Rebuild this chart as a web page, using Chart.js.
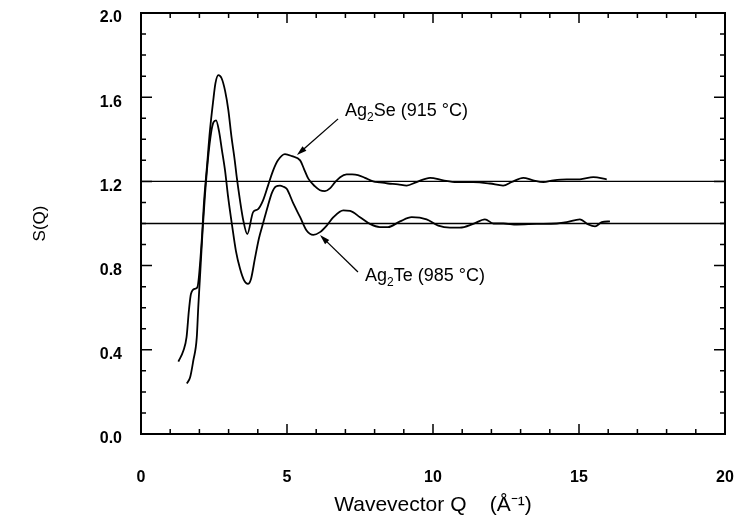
<!DOCTYPE html>
<html lang="en">
<head>
<meta charset="UTF-8">
<title>S(Q)</title>
<script src="https://cdn.jsdelivr.net/npm/chart.js@4.4.0/dist/chart.umd.min.js"></script>
<style>
  body { margin: 0; background: #fff; }
</style>
</head>
<body>
<canvas id="myChart" width="738" height="519"></canvas>
<script>
// Ag2Se (915 C), shifted up by 0.2
const seQ = [1.28, 1.45, 1.56, 1.64, 1.71, 1.85, 1.93, 2.08, 2.16, 2.26, 2.36, 2.47, 2.55, 2.65, 2.76, 2.88, 2.99, 3.1, 3.21, 3.27, 3.39, 3.51, 3.64, 3.84, 4.0, 4.18, 4.35, 4.52, 4.69, 4.93, 5.17, 5.45, 5.58, 5.73, 5.96, 6.13, 6.3, 6.47, 6.64, 6.82, 7.04, 7.23, 7.43, 7.67, 7.95, 8.18, 8.46, 8.8, 9.1, 9.44, 9.9, 10.35, 10.81, 11.38, 11.95, 12.4, 12.7, 13.09, 13.43, 13.78, 14.12, 14.58, 15.03, 15.49, 15.95]
const seS = [0.344, 0.395, 0.46, 0.586, 0.665, 0.69, 0.697, 0.92, 1.107, 1.273, 1.44, 1.58, 1.667, 1.705, 1.69, 1.63, 1.54, 1.41, 1.30, 1.23, 1.11, 1.01, 0.95, 1.054, 1.067, 1.11, 1.18, 1.25, 1.30, 1.33, 1.32, 1.30, 1.26, 1.213, 1.176, 1.158, 1.154, 1.167, 1.195, 1.22, 1.233, 1.233, 1.23, 1.217, 1.2, 1.195, 1.19, 1.186, 1.18, 1.197, 1.217, 1.205, 1.197, 1.197, 1.19, 1.18, 1.197, 1.217, 1.205, 1.197, 1.205, 1.21, 1.21, 1.22, 1.21]

// Ag2Te (985 C)
const teQ = [1.57, 1.68, 1.79, 1.91, 1.96, 2.02, 2.11, 2.19, 2.29, 2.4, 2.48, 2.57, 2.67, 2.77, 2.88, 2.98, 3.12, 3.25, 3.39, 3.53, 3.66, 3.77, 3.9, 4.04, 4.19, 4.35, 4.49, 4.62, 4.76, 4.86, 4.99, 5.22, 5.45, 5.67, 5.9, 6.13, 6.36, 6.59, 6.93, 7.16, 7.5, 7.84, 8.18, 8.46, 8.87, 9.27, 9.78, 10.18, 10.58, 10.92, 11.38, 11.78, 12.07, 12.41, 12.87, 13.55, 14.24, 14.58, 15.03, 15.32, 15.55, 15.78, 16.06]
const teS = [0.24, 0.268, 0.348, 0.459, 0.6, 0.745, 0.967, 1.133, 1.3, 1.43, 1.48, 1.49, 1.44, 1.35, 1.25, 1.13, 0.99, 0.87, 0.786, 0.73, 0.713, 0.738, 0.833, 0.93, 1.006, 1.086, 1.148, 1.176, 1.18, 1.176, 1.165, 1.094, 1.03, 0.967, 0.946, 0.959, 0.99, 1.03, 1.062, 1.06, 1.03, 0.998, 0.983, 0.983, 1.01, 1.03, 1.02, 0.99, 0.98, 0.98, 0.998, 1.02, 1.0, 1.0, 0.995, 0.998, 1.0, 1.006, 1.02, 0.995, 0.986, 1.006, 1.01]

// reference levels
const baseQ = [0, 20]
const seBase = [1.2, 1.2]
const teBase = [1.0, 1.0]

// axes
const xMin = 0, xMax = 20, xMajor = 5, xMinor = 1
const yMin = 0, yMax = 2, yMajor = 0.4, yMinor = 0.1

// annotations: label position, arrow tail, arrow head (in data units)
const seLabel = { q: 6.99, s: 1.534, tail: [6.75, 1.497], head: [5.34, 1.325], name: 'Se', temp: ' (915 °C)' }
const teLabel = { q: 7.67, s: 0.75, tail: [7.43, 0.77], head: [6.13, 0.945], name: 'Te', temp: ' (985 °C)' }

const FONT = "'Liberation Sans', Arial, Helvetica, sans-serif"
Chart.defaults.font.family = FONT
Chart.defaults.color = '#000'

const toPoints = (qs, ss) => qs.map((q, i) => ({ x: q, y: ss[i] }))

function drawArrow(ctx, x1, y1, x2, y2) {
    const ang = Math.atan2(y2 - y1, x2 - x1)
    const len = 10, half = 3
    ctx.beginPath()
    ctx.moveTo(x1, y1)
    ctx.lineTo(x2 - Math.cos(ang) * len * 0.8, y2 - Math.sin(ang) * len * 0.8)
    ctx.stroke()
    ctx.beginPath()
    ctx.moveTo(x2, y2)
    ctx.lineTo(x2 - Math.cos(ang) * len + Math.sin(ang) * half, y2 - Math.sin(ang) * len - Math.cos(ang) * half)
    ctx.lineTo(x2 - Math.cos(ang) * len - Math.sin(ang) * half, y2 - Math.sin(ang) * len + Math.cos(ang) * half)
    ctx.closePath()
    ctx.fill()
}

function drawLabel(ctx, x, y, lab) {
    ctx.textBaseline = 'middle'
    ctx.textAlign = 'left'
    ctx.font = '18px ' + FONT
    ctx.fillText('Ag', x, y)
    let w = ctx.measureText('Ag').width
    ctx.font = '12px ' + FONT
    ctx.fillText('2', x + w, y + 7)
    w += ctx.measureText('2').width
    ctx.font = '18px ' + FONT
    ctx.fillText(lab.name + lab.temp, x + w, y)
}

const framePlugin = {
    id: 'frame',
    afterDatasetsDraw(chart) {
        const { ctx, chartArea: a, scales: { x, y } } = chart
        ctx.save()
        ctx.strokeStyle = '#000'
        ctx.fillStyle = '#000'
        ctx.lineWidth = 2
        ctx.strokeRect(a.left, a.top, a.right - a.left, a.bottom - a.top)

        // inward ticks on all four sides
        ctx.lineWidth = 1.5
        ctx.beginPath()
        for (let i = 0; i <= (xMax - xMin) / xMinor; i++) {
            const q = xMin + i * xMinor
            const px = x.getPixelForValue(q)
            const len = Math.abs(q % xMajor) < 1e-6 ? 10 : 5
            ctx.moveTo(px, a.bottom); ctx.lineTo(px, a.bottom - len)
            ctx.moveTo(px, a.top); ctx.lineTo(px, a.top + len)
        }
        const nMinor = Math.round((yMax - yMin) / yMinor)
        const every = Math.round(yMajor / yMinor)
        for (let i = 0; i <= nMinor; i++) {
            const py = y.getPixelForValue(yMin + i * yMinor)
            const len = i % every === 0 ? 11 : 5
            ctx.moveTo(a.left, py); ctx.lineTo(a.left + len, py)
            ctx.moveTo(a.right, py); ctx.lineTo(a.right - len, py)
        }
        ctx.stroke()

        // annotations
        ctx.lineWidth = 1.3
        for (const lab of [seLabel, teLabel]) {
            drawArrow(ctx,
                x.getPixelForValue(lab.tail[0]), y.getPixelForValue(lab.tail[1]),
                x.getPixelForValue(lab.head[0]), y.getPixelForValue(lab.head[1]))
            drawLabel(ctx, x.getPixelForValue(lab.q), y.getPixelForValue(lab.s), lab)
        }
        ctx.restore()
    }
}

const ctx = document.getElementById('myChart').getContext('2d')
const curve = { borderColor: '#000', borderWidth: 1.8, pointRadius: 0, fill: false, cubicInterpolationMode: 'monotone' }
const level = { borderColor: '#000', borderWidth: 1.3, pointRadius: 0, fill: false }

const myChart = new Chart(ctx, {
    type: 'line',
    data: {
        datasets: [
            { label: 'Ag2Se', data: toPoints(seQ, seS), ...curve },
            { label: 'Ag2Te', data: toPoints(teQ, teS), ...curve },
            { label: 'Se level', data: toPoints(baseQ, seBase), ...level },
            { label: 'Te level', data: toPoints(baseQ, teBase), ...level }
        ]
    },
    options: {
        responsive: false,
        animation: false,
        devicePixelRatio: 1,
        layout: { autoPadding: false, padding: { left: 0, right: 13, top: 13, bottom: 0 } },
        plugins: { legend: { display: false }, tooltip: { enabled: false } },
        scales: {
            x: {
                type: 'linear',
                min: xMin, max: xMax,
                grid: { display: false, drawTicks: false },
                border: { display: false },
                ticks: { stepSize: xMajor, padding: 34, font: { size: 16, weight: 'bold' } },
                title: { display: true, text: 'Wavevector Q    (Å⁻¹)', font: { size: 21 }, padding: { top: 0, bottom: 1 } },
                afterFit: s => { s.height = 85; s.paddingLeft = 0; s.paddingRight = 0 }
            },
            y: {
                min: yMin, max: yMax,
                grid: { display: false, drawTicks: false },
                border: { display: false },
                ticks: {
                    stepSize: yMajor, padding: 19, labelOffset: 5,
                    font: { size: 16, weight: 'bold' },
                    callback: v => Number(v).toFixed(1)
                },
                title: { display: true, text: 'S(Q)', font: { size: 17 }, padding: { top: 30, bottom: 0 } },
                afterFit: s => { s.width = 141; s.paddingTop = 0; s.paddingBottom = 0 }
            }
        }
    },
    plugins: [framePlugin]
})
</script>
</body>
</html>
